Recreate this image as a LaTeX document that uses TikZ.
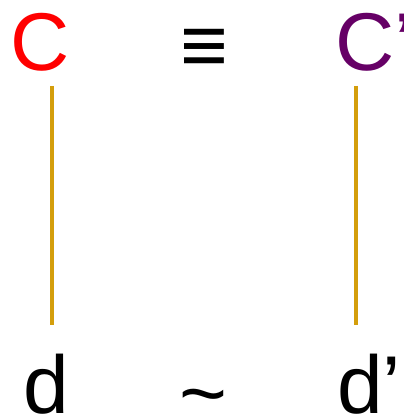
\documentclass[tikz,border=0pt]{standalone}
\usepackage{fontspec}
\setmainfont{Liberation Sans}
\definecolor{gold}{RGB}{212,158,12}
\definecolor{purp}{RGB}{102,0,102}
\begin{document}
\begin{tikzpicture}[x=1pt,y=1pt,
  lbl/.style={inner sep=0pt,outer sep=0pt,font=\fontsize{82}{82}\selectfont,anchor=base west},
  link/.style={draw=gold,line width=4pt}]
\useasboundingbox (0,0) rectangle (403,-419);
\node[lbl,text=red] (C) at (10.7,-71) {C};
\node[lbl] (eq) at (180,-74) {≡};
\node[lbl,text=purp] (Cp) at (335,-71) {C’};
\node[lbl] (d) at (23,-413) {d};
\node[lbl] (tl) at (179,-421) {\char"007E};
\node[lbl] (dp) at (337,-413) {d’};
\coordinate (a1) at (52,-86);
\coordinate (a2) at (52,-325);
\coordinate (b1) at (356,-86);
\coordinate (b2) at (356,-325);
\draw[link] (a1) -- (a2);
\draw[link] (b1) -- (b2);
\end{tikzpicture}
\end{document}
